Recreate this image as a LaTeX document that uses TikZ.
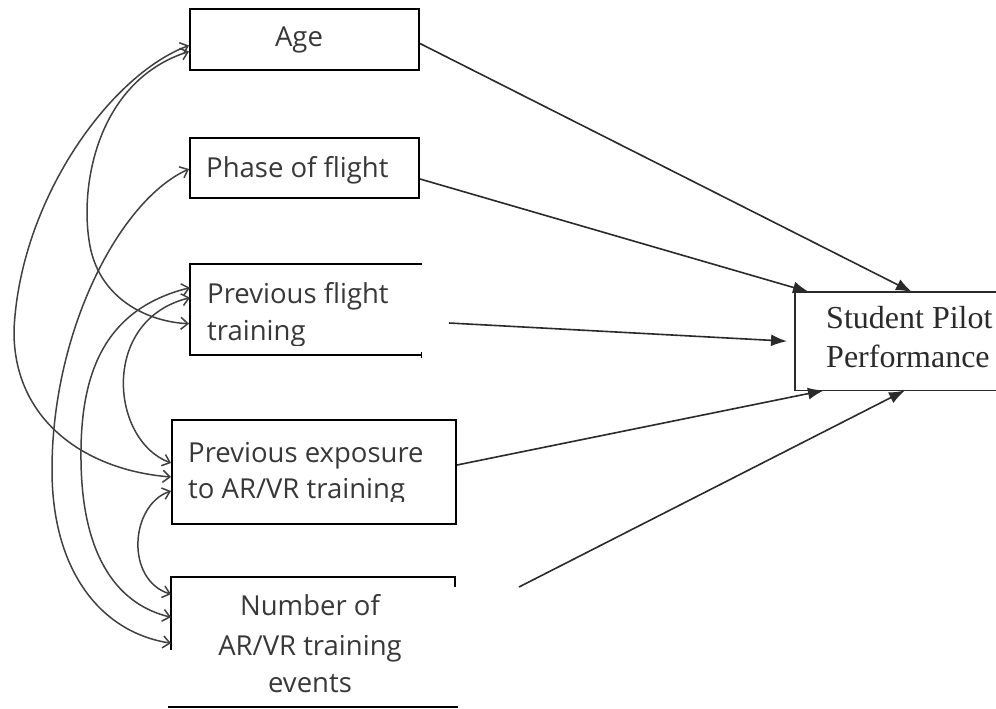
\documentclass[tikz,border=0pt]{standalone}
\usepackage{fontspec}
\setmainfont{Liberation Serif}
\newfontfamily\boxfont{Open Sans}
\usetikzlibrary{arrows.meta,calc}
\definecolor{ink}{HTML}{383838}
\definecolor{pen}{HTML}{404040}
\definecolor{rule}{HTML}{2A2A2A}

\begin{document}
\begin{tikzpicture}[x=1pt,y=-1pt,
  frame/.style={draw=black, line width=2pt},
  hollow/.style={draw=none, inner sep=0pt, anchor=north west},
  lbl/.style={font=\boxfont\fontsize{27.5}{38}\selectfont, text=ink, inner sep=0pt},
  perflbl/.style={font=\fontsize{32}{38}\selectfont, text=rule, inner sep=0pt},
  effect/.style={-{Latex[length=16pt,width=12pt]}, line width=1.6pt, draw=rule},
  corr/.style={{Straight Barb[length=7pt,width=12pt]}-{Straight Barb[length=7pt,width=12pt]},
    line width=1.5pt, draw=pen},
]
\clip (0,0) rectangle (996,709);

% ---- predictor boxes ----
\node[hollow, frame, minimum width=229pt, minimum height=61pt] (age) at (189,8) {};
\node[hollow, frame, minimum width=229pt, minimum height=60pt] (phase) at (189,137) {};
\node[hollow, minimum width=232pt, minimum height=91pt] (flight) at (190,264) {};
\node[hollow, frame, minimum width=284pt, minimum height=104pt] (exposure) at (171,419) {};
\node[hollow, minimum width=284pt, minimum height=130pt] (events) at (171,577) {};
\node[hollow, minimum width=215pt, minimum height=98pt] (perf) at (795,292) {};

% open-sided frames
\draw[frame] (flight.north east) -- (flight.north west) -- (flight.south west) -- (flight.south east);
\draw[line width=1pt] ($(flight.south east)+(-1,-3)$) -- ($(flight.south east)+(-1,3)$);
\draw[frame] ($(events.north west)+(0,73)$) -- (events.north west) -- (events.north east) -- ($(events.north east)+(0,10)$);
\draw[frame] ($(events.south west)+(-3,0)$) -- ($(events.south east)+(3,0)$);
\draw[line width=1.8pt, draw=rule] (perf.north east) -- (perf.north west) -- (perf.south west) -- (perf.south east);

% ---- labels ----
\node[lbl, anchor=base] (agetxt) at (299,47) {Age};
\node[lbl, anchor=base west] (phasetxt) at (206,177) {Phase of flight};
\node[lbl, anchor=base west] (flighttxt) at (207,303) {Previous flight};
\begin{scope}
  \clip (190,264) rectangle (423,345);
  \node[lbl, anchor=base west] (flighttxt2) at (207,340) {training};
\end{scope}
\node[lbl, anchor=base west] (exptxt) at (188,462) {Previous exposure};
\begin{scope}
  \clip (171,419) rectangle (455,501);
  \node[lbl, anchor=base west] (exptxt2) at (188,498) {to AR/VR training};
\end{scope}
\node[lbl, anchor=base] (evtxt1) at (310,615) {Number of};
\node[lbl, anchor=base] (evtxt2) at (310,655) {AR/VR training};
\node[lbl, anchor=base] (evtxt3) at (310,692) {events};
\node[perflbl, anchor=base west] (perftxt1) at (826,328) {Student Pilot};
\node[perflbl, anchor=base west] (perftxt2) at (826,367) {Performance};

% ---- paths into performance ----
\coordinate (flightout) at (449,323);
\coordinate (eventsout) at (519,587);
\draw[effect] ($(age.east)+(0,4)$) -- ($(perf.north west)+(117,0)$);
\draw[effect] ($(phase.east)+(0,11)$) -- ($(perf.north west)+(14,0)$);
\draw[effect] (flightout) -- ($(perf.west)+(-8,0)$);
\draw[effect] ($(exposure.east)+(0,-7)$) -- ($(perf.south west)+(29,0)$);
\draw[effect] (eventsout) -- ($(perf.south west)+(110,0)$);

% ---- correlations among predictors ----
% age -- exposure
\draw[corr] ($(age.west)+(0,6)$) .. controls (110,75) and (20,200) .. (14,330)
  .. controls (13,420) and (85,470) .. ($(exposure.west)+(0,5)$);
% age -- previous flight training
\draw[corr] ($(age.west)+(0,12)$) .. controls (100,80) and (80,180) .. (89,240)
  .. controls (97,300) and (150,322) .. ($(flight.west)+(-1,14)$);
% phase -- number of events
\draw[corr] ($(phase.west)+(0,1)$) .. controls (120,200) and (52,330) .. (52,470)
  .. controls (52,570) and (100,632) .. ($(events.west)+(0,1)$);
% previous flight -- exposure
\draw[corr] ($(flight.west)+(0,-12)$) .. controls (100,320) and (110,440) .. ($(exposure.west)+(0,-9)$);
% previous flight -- number of events
\draw[corr] ($(flight.west)+(0,-22)$) .. controls (100,310) and (80,380) .. (81,460)
  .. controls (82,560) and (120,605) .. ($(events.west)+(0,-25)$);
% exposure -- number of events
\draw[corr] ($(exposure.west)+(0,19)$) .. controls (130,505) and (125,580) .. ($(events.west)+(0,-48)$);
\end{tikzpicture}
\end{document}
